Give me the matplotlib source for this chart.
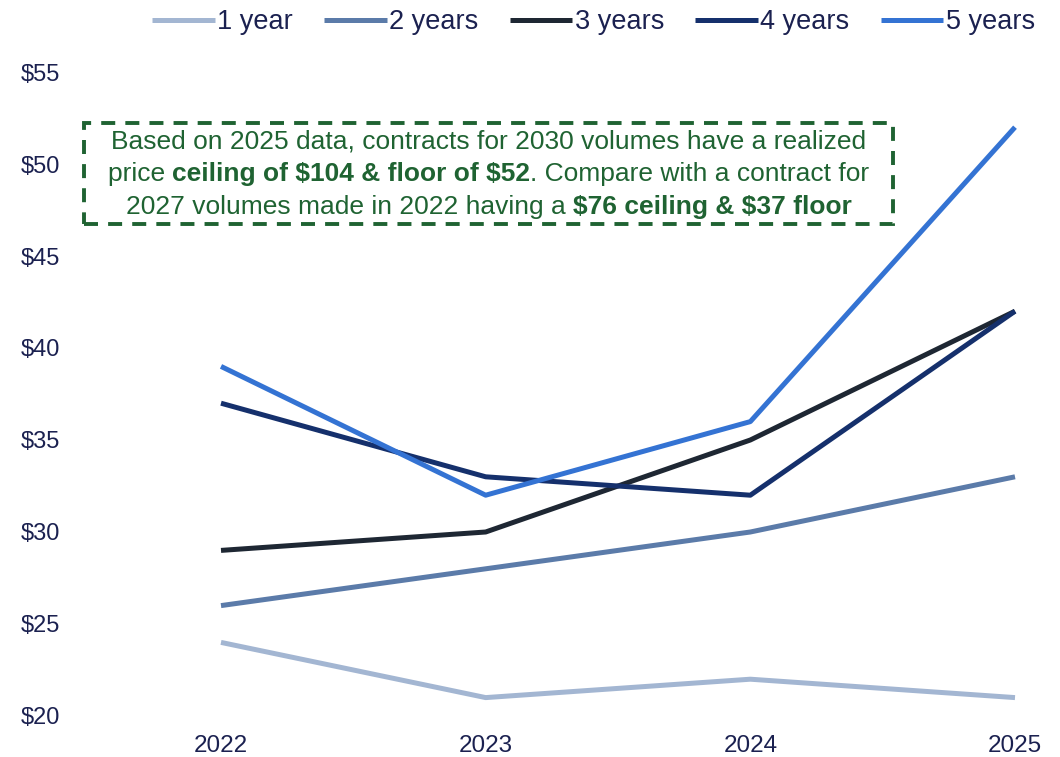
import matplotlib
matplotlib.use("Agg")
import matplotlib.pyplot as plt
from matplotlib.patches import Rectangle
from matplotlib.ticker import FuncFormatter

plt.rcParams['font.family'] = ['Liberation Sans', 'DejaVu Sans']
plt.rcParams['text.parse_math'] = False

# === Data ===
years = [2022, 2023, 2024, 2025]
series_names = ["1 year", "2 years", "3 years", "4 years", "5 years"]
one_year = [24, 21, 22, 21]
two_years = [26, 28, 30, 33]
three_years = [29, 30, 35, 42]
four_years = [37, 33, 32, 42]
five_years = [39, 32, 36, 52]
y_ticks = [20, 25, 30, 35, 40, 45, 50, 55]

colors = ["#a3b6d2", "#5b7ba9", "#1e2733", "#15306c", "#3473d3"]
navy = "#1b2150"
green = "#1f6332"

W, H = 1060, 757
fig = plt.figure(figsize=(W / 100, H / 100), dpi=100)

# axes placed so the data lands on the reference pixels
ax_left, ax_right = 80, 1040
ax_top, ax_bottom = 72, 716
ax = fig.add_axes([ax_left / W, 1 - ax_bottom / H, (ax_right - ax_left) / W, (ax_bottom - ax_top) / H])

px_per_year = (1015 - 221) / 3
ax.set_xlim(2022 - (221 - ax_left) / px_per_year, 2025 + (ax_right - 1015) / px_per_year)
ax.set_ylim(20, 55)

for name, vals, c in zip(series_names, [one_year, two_years, three_years, four_years, five_years], colors):
    ax.plot(years, vals, color=c, lw=3.6, label=name, solid_capstyle='butt')

for s in ax.spines.values():
    s.set_visible(False)
ax.set_xticks(years)
ax.set_yticks(y_ticks)
ax.yaxis.set_major_formatter(FuncFormatter(lambda v, p: f"${v:.0f}"))
ax.tick_params(length=0, colors=navy)
ax.tick_params(axis='x', labelsize=17.5, pad=14)
ax.tick_params(axis='y', labelsize=17, pad=14)
for lab in ax.get_xticklabels() + ax.get_yticklabels():
    lab.set_color(navy)

leg = fig.legend(loc='upper center', ncol=5, bbox_to_anchor=(0.56, 1.02), frameon=False,
                 fontsize=19.5, handlelength=2.3, handletextpad=0.1, columnspacing=1.15)
for t in leg.get_texts():
    t.set_color(navy)

# === Annotation box ===
bx0, by0, bx1, by1 = 84, 123, 893, 224
fig.patches.append(Rectangle((bx0 / W, 1 - by1 / H), (bx1 - bx0) / W, (by1 - by0) / H,
                             transform=fig.transFigure, fill=False, ec=green, lw=2.8,
                             ls=(0, (3.6, 2.6))))

lines = [
    [("Based on 2025 data, contracts for 2030 volumes have a realized", False)],
    [("price ", False), ("ceiling of $104 & floor of $52", True), (". Compare with a contract for", False)],
    [("2027 volumes made in 2022 having a ", False), ("$76 ceiling & $37 floor", True)],
]
line_y = [141, 174, 207]
cx = (bx0 + bx1) / 2
renderer = fig.canvas.get_renderer()
for segs, yy in zip(lines, line_y):
    texts = []
    for s, bold in segs:
        t = fig.text(0, 1 - yy / H, s, fontsize=19, color=green, va='center', ha='left',
                     fontweight='bold' if bold else 'normal')
        texts.append(t)
    widths = [t.get_window_extent(renderer).width for t in texts]
    x = cx - sum(widths) / 2
    for t, w in zip(texts, widths):
        t.set_x(x / W)
        x += w

fig.savefig("out.png", dpi=100)
